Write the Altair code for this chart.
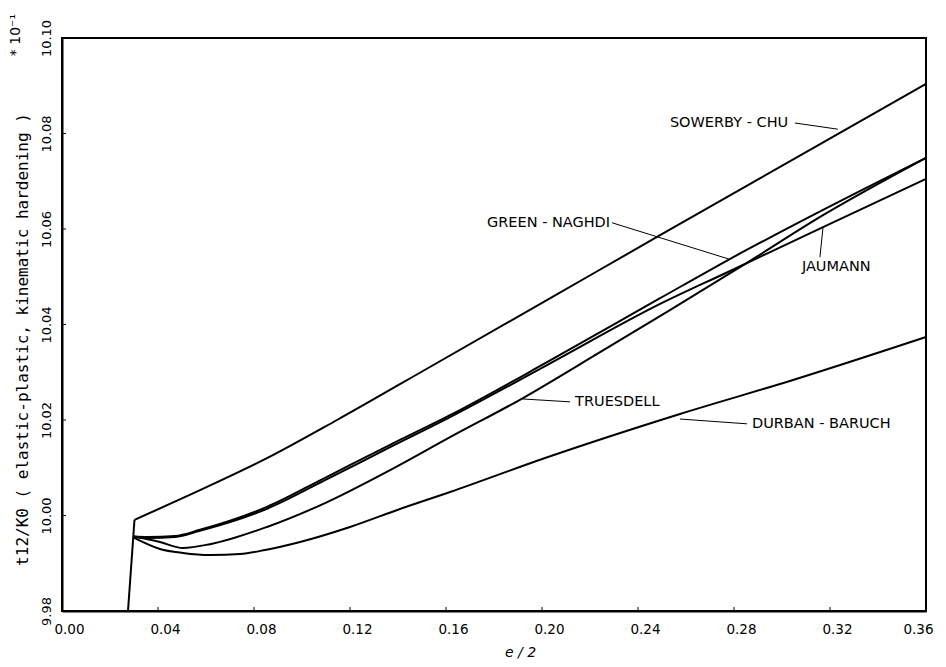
import altair as alt
import pandas as pd

# ---- data ----
# elastic branch (common to all curves)
x_elastic = [0.0275, 0.0302]
y_elastic = [9.980, 9.9991]

x_sowerby = [0.0302, 0.0575, 0.0854, 0.1146, 0.1533, 0.2013, 0.2492, 0.3188, 0.36]
y_sowerby = [9.9991, 10.0053, 10.0120, 10.0200, 10.0311, 10.0449, 10.0587, 10.0786, 10.0904]

x_gn = [0.0297, 0.0358, 0.0471, 0.0575, 0.0854, 0.1096, 0.1367, 0.1617, 0.2021, 0.2492, 0.2775, 0.3171, 0.36]
y_gn = [9.9956, 9.9955, 9.9957, 9.9970, 10.0018, 10.0079, 10.0148, 10.0210, 10.0321, 10.0455, 10.0535, 10.0640, 10.0749]

x_jaumann = [0.0297, 0.0358, 0.0471, 0.0575, 0.0854, 0.1096, 0.1367, 0.1617, 0.2021, 0.2492, 0.2775, 0.3171, 0.36]
y_jaumann = [9.9956, 9.9953, 9.9955, 9.9968, 10.0014, 10.0074, 10.0143, 10.0206, 10.0315, 10.0443, 10.0510, 10.0604, 10.0705]

x_truesdell = [0.0297, 0.0408, 0.0504, 0.0617, 0.0854, 0.1096, 0.1367, 0.1617, 0.1921, 0.2242, 0.2533, 0.2825, 0.3171, 0.36]
y_truesdell = [9.9956, 9.99445, 9.9932, 9.9940, 9.9976, 10.0026, 10.0095, 10.0164, 10.0246, 10.0342, 10.0430, 10.0520, 10.0629, 10.0749]

x_durban = [0.0297, 0.0408, 0.0504, 0.0617, 0.0742, 0.0846, 0.0992, 0.1200, 0.1408, 0.1617, 0.2013, 0.2575, 0.3046, 0.36]
y_durban = [9.9954, 9.99298, 9.99215, 9.99173, 9.99194, 9.99277, 9.99445, 9.99759, 10.00136, 10.00492, 10.01204, 10.02126, 10.02838, 10.03738]

x_ticks = [0.00, 0.04, 0.08, 0.12, 0.16, 0.20, 0.24, 0.28, 0.32, 0.36]
y_ticks = [9.98, 10.00, 10.02, 10.04, 10.06, 10.08, 10.10]

label_names = ["SOWERBY - CHU", "GREEN - NAGHDI", "JAUMANN", "TRUESDELL", "DURBAN - BARUCH"]
label_x = [0.2533, 0.1771, 0.3083, 0.2138, 0.2875]
label_y = [10.0822, 10.0613, 10.0520, 10.0238, 10.0192]
leader_x1 = [0.3054, 0.2292, 0.3158, 0.2117, 0.2854]
leader_y1 = [10.0822, 10.0613, 10.0541, 10.0238, 10.0192]
leader_x2 = [0.3233, 0.2779, 0.3171, 0.1921, 0.2575]
leader_y2 = [10.0809, 10.0537, 10.0604, 10.0244, 10.0202]

# ---- tables ----
def table(series_list):
    rows = []
    for name, xs, ys in series_list:
        for xv, yv in zip(xs, ys):
            rows.append({"series": name, "x": xv, "y": yv})
    return pd.DataFrame(rows)

df_el = table([("elastic", x_elastic, y_elastic)])
df = table([("Sowerby-Chu", x_sowerby, y_sowerby),
            ("Green-Naghdi", x_gn, y_gn),
            ("Jaumann", x_jaumann, y_jaumann),
            ("Truesdell", x_truesdell, y_truesdell),
            ("Durban-Baruch", x_durban, y_durban)])

labels = pd.DataFrame({"name": label_names, "x": label_x, "y": label_y})
leaders = pd.DataFrame({"x": leader_x1, "y": leader_y1, "x2": leader_x2, "y2": leader_y2})
xt = pd.DataFrame({"x": x_ticks[1:-1]})
yt = pd.DataFrame({"y": y_ticks[1:-1]})

FONT = "DejaVu Sans"
W, H = 864, 573

xscale = alt.Scale(domain=[0, 0.36], nice=False, zero=False)
yscale = alt.Scale(domain=[9.98, 10.10], nice=False, zero=False)

xaxis = alt.Axis(values=x_ticks, format=".2f", title="e / 2", tickSize=0,
                 labelPadding=11, labelFontSize=13.5, labelFont=FONT, labelColor="black",
                 labelOffset=7, labelFlush=False,
                 labelAlign={"condition": {"test": "datum.value >= 0.359", "value": "right"},
                             "value": "center"},
                 titleFont=FONT, titleFontSize=14, titleFontWeight="normal",
                 titleFontStyle="italic", titleColor="black", titleX=458, titleY=41,
                 titleBaseline="middle", grid=False, domainColor="black", domainWidth=2)
yaxis = alt.Axis(values=y_ticks, format=".2f",
                 title="t12/K0 ( elastic-plastic, kinematic hardening )",
                 tickSize=0, labelAngle=-90, labelAlign="center", labelBaseline="bottom",
                 labelPadding=9, labelFontSize=13, labelFont=FONT, labelColor="black",
                 labelFlush=False,
                 titleFont="DejaVu Sans Mono", titleFontSize=16, titleFontWeight="normal",
                 titleColor="black", titleX=-40, titleY=301, titleAngle=-90,
                 titleAlign="center", titleBaseline="middle",
                 grid=False, domainColor="black", domainWidth=2)

elastic = alt.Chart(df_el).mark_line(color="black", strokeWidth=2).encode(
    x=alt.X("x:Q", scale=xscale, axis=xaxis),
    y=alt.Y("y:Q", scale=yscale, axis=yaxis),
)

lines = alt.Chart(df).mark_line(color="black", strokeWidth=2, interpolate="monotone").encode(
    x=alt.X("x:Q", scale=xscale),
    y=alt.Y("y:Q", scale=yscale),
    detail="series:N",
    order="x:Q",
)

texts = alt.Chart(labels).mark_text(align="left", baseline="middle", font=FONT,
                                    fontSize=14.5, color="black").encode(
    x=alt.X("x:Q", scale=xscale), y=alt.Y("y:Q", scale=yscale), text="name:N")

lead = alt.Chart(leaders).mark_rule(color="black", strokeWidth=1).encode(
    x=alt.X("x:Q", scale=xscale), y=alt.Y("y:Q", scale=yscale),
    x2="x2:Q", y2="y2:Q")

xtick_marks = alt.Chart(xt).mark_rule(color="black", strokeWidth=1).encode(
    x=alt.X("x:Q", scale=xscale), y=alt.value(H), y2=alt.value(H - 4))
ytick_marks = alt.Chart(yt).mark_rule(color="black", strokeWidth=1).encode(
    y=alt.Y("y:Q", scale=yscale), x=alt.value(0), x2=alt.value(4))

mult = alt.Chart(pd.DataFrame({"t": ["* 10\u207b\u00b9"]})).mark_text(
    angle=270, font=FONT, fontSize=14, color="black", align="center", baseline="middle").encode(
    text="t:N", x=alt.value(-46), y=alt.value(-3))

chart = alt.layer(elastic, lines, lead, texts, xtick_marks, ytick_marks, mult).properties(
    width=W, height=H,
    autosize=alt.AutoSizeParams(type="none"),
    padding={"left": 54, "top": 30, "right": 12, "bottom": 48},
    background="white",
).configure_view(stroke="black", strokeWidth=2)

chart.save("out.html", embed_options={"renderer": "svg", "actions": False})
